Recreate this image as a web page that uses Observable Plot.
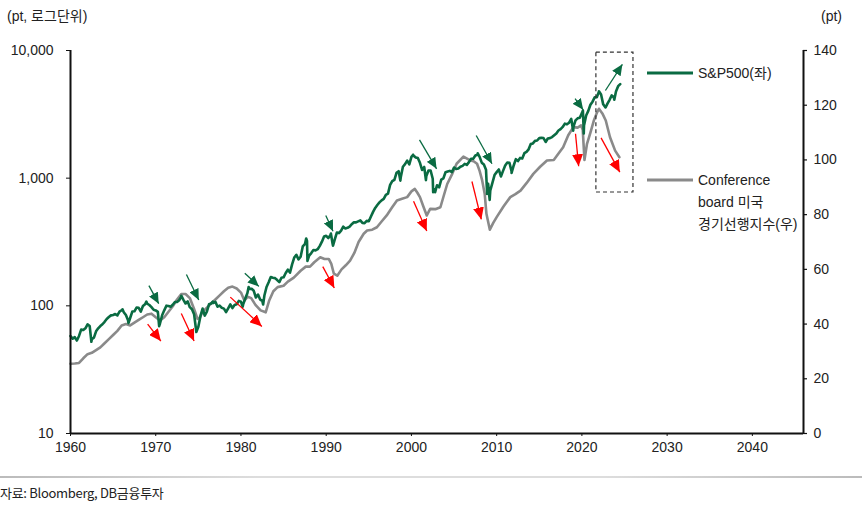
<!DOCTYPE html>
<html>
<head>
<meta charset="utf-8">
<script src="https://cdn.jsdelivr.net/npm/d3@7"></script>
<script src="https://cdn.jsdelivr.net/npm/@observablehq/plot@0.6"></script>
<style>
  html, body { margin: 0; padding: 0; background: #fff; }
  #wrap { position: relative; width: 862px; height: 508px; overflow: hidden;
          font-family: 'Liberation Sans', Arial, 'Noto Sans CJK KR', sans-serif; color: #222; }
  .abs { position: absolute; white-space: nowrap; }
  #chart { position: absolute; left: 0; top: 0; }
</style>
</head>
<body>
<div id="wrap">
  <div id="chart"></div>
  <div class="abs" id="ttl" style="left:7px; top:5px; font-size:14px;">(pt, 로그단위)</div>
  <div class="abs" style="left:821px; top:8px; font-size:14px;">(pt)</div>
  <div class="abs" style="left:647px; top:63px; font-size:14px; line-height:20px;">
    <svg width="46" height="20" style="vertical-align:top;"><line x1="0" x2="46" y1="10" y2="10" stroke="#0a6b42" stroke-width="3"/></svg><span style="position:relative; left:5px;">S&amp;P500(좌)</span>
  </div>
  <div class="abs" style="left:647px; top:170px; font-size:14px; line-height:22px;">
    <svg width="46" height="20" style="position:absolute; left:0; top:0;"><line x1="0" x2="46" y1="10" y2="10" stroke="#8a8a8a" stroke-width="3"/></svg>
    <div style="margin-left:51px; margin-top:-1px;">Conference<br>board 미국<br>경기선행지수(우)</div>
  </div>
  <div class="abs" style="left:0; top:476px; width:862px; height:2px; background:linear-gradient(to right,#bbb,#ddd 30%,#ddd 70%,#bbb);"></div>
  <div class="abs" style="left:0; top:483px; font-size:13px; letter-spacing:-0.3px; font-family:'Noto Sans CJK KR','Liberation Sans',sans-serif;">자료: Bloomberg, DB금융투자</div>
</div>
<script>
// ---------- data ----------
const xDomain = [1960, 2046];
const yDomain = [10, 10000];
const xTicks = [1960, 1970, 1980, 1990, 2000, 2010, 2020, 2030, 2040];
const yTicks = [10, 100, 1000, 10000];
const rightTicks = [0, 20, 40, 60, 80, 100, 120, 140];
const rightMax = 140;

// S&P 500, quarter-end values from 1960 Q1 (first point = start of 1960)
const spStart = 58.0;
const spQuarterly = [
  55.3, 56.9, 53.5, 58.1,   65.1, 64.6, 66.7, 71.6,   69.6, 54.8, 56.3, 63.1,
  66.6, 69.4, 71.7, 75.0,   78.9, 81.7, 84.2, 84.8,   86.2, 84.1, 90.0, 92.4,
  89.2, 84.7, 77.0, 80.3,   90.2, 90.6, 97.0, 96.5,   90.2, 99.6, 102.9, 103.9,
  101.5, 97.7, 93.1, 92.1,  89.6, 72.7, 84.2, 92.2,   100.3, 99.7, 98.3, 102.1,
  107.2, 107.1, 110.6, 118.1, 111.5, 104.3, 108.4, 97.6, 94.0, 86.0, 63.5, 68.6,
  83.4, 95.2, 83.9, 90.2,   102.8, 104.3, 105.2, 107.5, 98.4, 100.5, 96.5, 95.1,
  89.2, 95.5, 102.5, 96.1,  101.6, 102.9, 109.3, 107.9, 102.1, 114.2, 125.5, 135.8,
  136.0, 131.2, 116.2, 122.6, 112.0, 109.6, 120.4, 140.6, 153.0, 168.1, 166.1, 164.9,
  159.2, 153.2, 166.1, 167.2, 180.7, 191.9, 182.1, 211.3, 238.9, 250.8, 231.3, 242.2,
  291.7, 304.0, 321.8, 247.1, 258.9, 273.5, 271.9, 277.7, 294.9, 318.0, 349.2, 353.4,
  339.9, 358.0, 306.1, 330.2, 375.2, 371.2, 387.9, 417.1, 403.7, 408.1, 417.8, 435.7,
  451.7, 450.5, 458.9, 466.5, 445.8, 444.3, 462.7, 459.3, 500.7, 544.8, 584.4, 615.9,
  645.5, 670.6, 687.3, 740.7, 757.1, 885.1, 947.3, 970.4, 1101.8, 1133.8, 1017.0, 1229.2,
  1286.4, 1372.7, 1282.7, 1469.3, 1498.6, 1454.6, 1436.5, 1320.3, 1160.3, 1224.4, 1040.9, 1148.1,
  1147.4, 989.8, 815.3, 879.8, 848.2, 974.5, 996.0, 1111.9, 1126.2, 1140.8, 1114.6, 1211.9,
  1180.6, 1191.3, 1228.8, 1248.3, 1294.8, 1270.2, 1335.9, 1418.3, 1420.9, 1503.4, 1526.8, 1468.4,
  1322.7, 1280.0, 1166.4, 903.3, 797.9, 919.3, 1057.1, 1115.1, 1169.4, 1030.7, 1141.2, 1257.6,
  1325.8, 1320.6, 1131.4, 1257.6, 1408.5, 1362.2, 1440.7, 1426.2, 1569.2, 1606.3, 1681.6, 1848.4,
  1872.3, 1960.2, 1972.3, 2058.9, 2067.9, 2063.1, 1920.0, 2043.9, 2059.7, 2098.9, 2168.3, 2238.8,
  2362.7, 2423.4, 2519.4, 2673.6, 2640.9, 2718.4, 2914.0, 2506.9, 2834.4, 2941.8, 2976.7, 3230.8,
  2584.6, 3100.3, 3363.0, 3756.1, 3972.9, 4297.5, 4307.5, 4766.2, 4530.4, 3785.4, 3585.6, 3839.5,
  4109.3, 4450.4, 4288.1, 4769.8, 5254.4, 5460.5
];
// intra-quarter highs and lows
const spExtraDates = [1962.45, 1966.1, 1966.8, 1968.9, 1970.4, 1973.0, 1974.76, 1976.7, 1980.2, 1980.9,
  1982.6, 1987.65, 1987.8, 1990.55, 1990.8, 1998.7, 2000.2, 2001.7, 2002.55, 2002.78, 2007.78,
  2008.88, 2009.18, 2011.75, 2018.98, 2020.12, 2020.22, 2022.0, 2022.78, 2023.8];
const spExtraValues = [52.3, 94.0, 73.2, 108.0, 69.3, 120.0, 62.3, 107.8, 98.2, 140.5,
  102.4, 336.8, 224.8, 368.9, 295.5, 957.0, 1527.0, 965.8, 776.8, 776.8, 1565.0,
  752.0, 676.5, 1099.0, 2351.0, 3386.0, 2237.0, 4796.0, 3577.0, 4117.0];

// Conference Board US Leading Economic Index (right axis)
const leiDates = [1960.0, 1960.5, 1961.0, 1961.5, 1962.0, 1962.5, 1963.0, 1963.5, 1964.0, 1964.5,
  1965.0, 1965.5, 1966.0, 1966.5, 1967.0, 1967.5, 1968.0, 1968.5, 1969.0, 1969.5,
  1970.0, 1970.5, 1971.0, 1971.5, 1972.0, 1972.5, 1973.0, 1973.5, 1974.0, 1974.5,
  1974.9, 1975.2, 1975.5, 1976.0, 1976.5, 1977.0, 1977.5, 1978.0, 1978.5, 1979.0,
  1979.5, 1980.0, 1980.4, 1980.8, 1981.2, 1981.7, 1982.3, 1982.9, 1983.3, 1983.8,
  1984.3, 1985.0, 1985.5, 1986.2, 1987.0, 1987.6, 1988.1, 1988.6, 1989.3, 1989.8,
  1990.3, 1990.6, 1990.9, 1991.3, 1991.8, 1992.3, 1992.8, 1993.3, 1993.8, 1994.4,
  1994.8, 1995.4, 1995.95, 1996.5, 1997.1, 1997.7, 1998.3, 1998.9, 1999.5, 2000.0,
  2000.4, 2000.7, 2001.0, 2001.4, 2001.8, 2002.2, 2002.8, 2003.4, 2003.8, 2004.2,
  2004.8, 2005.3, 2006.1, 2006.9, 2007.3, 2007.7, 2008.0, 2008.3, 2008.6, 2008.8,
  2009.2, 2009.6, 2010.0, 2010.8, 2011.6, 2012.2, 2012.8, 2013.5, 2014.3, 2015.1,
  2015.9, 2016.7, 2017.3, 2017.8, 2018.4, 2019.0, 2019.5, 2019.9, 2020.1, 2020.3,
  2020.6, 2021.0, 2021.4, 2021.8, 2022.0, 2022.4, 2022.8, 2023.3, 2023.9, 2024.4];
const leiValues = [25.5, 25.6, 25.8, 27.5, 29.0, 29.5, 30.5, 31.5, 33.0, 34.5,
  36.0, 37.5, 39.5, 40.0, 39.5, 40.5, 41.5, 42.5, 43.5, 43.8,
  42.5, 41.3, 42.5, 44.5, 46.5, 49.0, 51.0, 51.0, 49.5, 45.5,
  41.9, 42.5, 44.5, 46.0, 47.5, 49.0, 50.5, 52.0, 53.3, 53.7,
  53.0, 51.5, 48.6, 50.0, 49.5, 47.0, 45.0, 44.3, 48.5, 52.0,
  53.5, 54.0, 55.5, 57.0, 59.5, 61.0, 61.0, 62.6, 64.4, 63.8,
  63.8, 62.0, 58.4, 57.7, 60.0, 61.5, 63.2, 66.0, 70.0, 73.0,
  74.2, 74.5, 75.4, 77.5, 79.7, 82.5, 85.2, 85.8, 86.4, 88.5,
  89.4, 88.0, 86.4, 83.0, 79.7, 82.1, 82.0, 82.7, 87.0, 91.2,
  95.0, 98.6, 101.2, 99.8, 99.5, 98.6, 96.0, 92.5, 87.5, 80.3,
  74.5, 77.0, 79.1, 83.0, 86.4, 87.5, 88.8, 91.5, 94.9, 97.5,
  99.8, 100.0, 102.5, 104.6, 109.0, 112.0, 111.8, 112.6, 111.0, 100.0,
  105.9, 110.0, 114.4, 117.5, 118.7, 117.0, 114.4, 108.3, 103.4, 101.0];

// annotation arrows: [year1, value1, year2, value2] on the left (log) scale
const greenArrows = [
  [1969.2, 144, 1970.35, 104],
  [1973.6, 176, 1975.05, 111],
  [1980.45, 180, 1982.1, 142],
  [1989.95, 510, 1990.8, 384],
  [2000.95, 1997, 2002.95, 1184],
  [2007.6, 2159, 2009.45, 1296],
  [2019.2, 4200, 2020.15, 3430],
  [2022.76, 4860, 2024.75, 7800]
];
const redArrows = [
  [1969.05, 72, 1970.6, 53],
  [1973.0, 87, 1974.5, 53],
  [1978.75, 117, 1982.45, 69],
  [1989.6, 203, 1990.95, 138],
  [2000.25, 660, 2001.8, 385],
  [2007.1, 942, 2008.2, 475],
  [2019.25, 2226, 2019.62, 1240],
  [2022.25, 2070, 2024.45, 1115]
];
// dashed highlight box: [x1, x2, y1, y2]
const highlightBox = [2021.7, 2026.05, 772, 9640];

// ---------- build ----------
const lei2y = v => 10 ** (1 + v * 3 / rightMax);

const sp = [{x: 1960, v: spStart}]
  .concat(spQuarterly.map((v, i) => ({x: 1960 + (i + 1) * 0.25, v})))
  .concat(spExtraDates.map((x, i) => ({x, v: spExtraValues[i]})))
  .sort((a, b) => a.x - b.x);
const lei = leiDates.map((x, i) => ({x, v: leiValues[i]}));
const toArrow = a => ({x1: a[0], y1: a[1], x2: a[2], y2: a[3]});

function headMarker(len, wid) {
  return (color) => {
    const ns = "http://www.w3.org/2000/svg";
    const m = document.createElementNS(ns, "marker");
    m.setAttribute("viewBox", `${-len} ${-wid / 2} ${len} ${wid}`);
    m.setAttribute("markerWidth", len);
    m.setAttribute("markerHeight", wid);
    m.setAttribute("markerUnits", "userSpaceOnUse");
    m.setAttribute("orient", "auto");
    m.setAttribute("refX", 0);
    m.setAttribute("refY", 0);
    const p = document.createElementNS(ns, "path");
    p.setAttribute("d", `M${-len},${-wid / 2}L0,0L${-len},${wid / 2}Z`);
    p.setAttribute("fill", color);
    p.setAttribute("stroke", "none");
    m.appendChild(p);
    return m;
  };
}

const W = 862, ML = 70, MR = 59;
const frameW = W - ML - MR;

const chart = Plot.plot({
  width: W,
  height: 470,
  marginLeft: ML,
  marginRight: MR,
  marginTop: 50,
  marginBottom: 37,
  style: {fontFamily: "'Liberation Sans', Arial, sans-serif", fontSize: "14px", color: "#222", background: "transparent"},
  x: {domain: xDomain},
  y: {type: "log", domain: yDomain},
  marks: [
    Plot.axisX({ticks: xTicks, tickFormat: d3.format("d"), tickSize: 3, tickPadding: 6, label: null, stroke: "#111"}),
    Plot.axisY({ticks: yTicks, tickFormat: d3.format(","), tickSize: 4, tickPadding: 13, label: null, stroke: "#111"}),
    // right axis (LEI scale) drawn from its tick values
    Plot.tickY(rightTicks, {y: lei2y, stroke: "#111", strokeWidth: 1.2, insetLeft: frameW - 4, dx: 4}),
    Plot.text(rightTicks, {y: lei2y, text: d => String(d), frameAnchor: "right", textAnchor: "start", dx: 10, fill: "#222"}),
    Plot.line(lei, {x: "x", y: d => lei2y(d.v), stroke: "#8a8a8a", strokeWidth: 2.6}),
    Plot.line(sp, {x: "x", y: "v", stroke: "#0a6b42", strokeWidth: 2.6}),
    Plot.link(greenArrows.map(toArrow), {x1: "x1", y1: "y1", x2: "x2", y2: "y2", stroke: "#0a6b42", strokeWidth: 1.3, markerEnd: headMarker(11, 10)}),
    Plot.link(redArrows.map(toArrow), {x1: "x1", y1: "y1", x2: "x2", y2: "y2", stroke: "#ff0000", strokeWidth: 1.3, markerEnd: headMarker(12, 11)}),
    Plot.rect([highlightBox], {x1: d => d[0], x2: d => d[1], y1: d => d[2], y2: d => d[3], fill: "none", stroke: "#333", strokeWidth: 1.2, strokeDasharray: "4,3"}),
    Plot.ruleX(xDomain, {stroke: "#111", strokeWidth: 2}),
    Plot.ruleY([yDomain[0]], {stroke: "#111", strokeWidth: 2})
  ]
});
document.getElementById("chart").appendChild(chart);
</script>
</body>
</html>
